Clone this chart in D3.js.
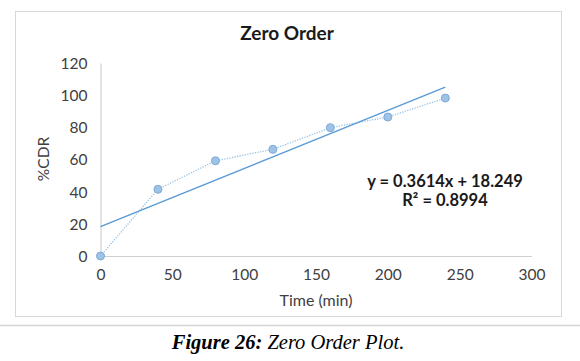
<!DOCTYPE html>
<html><head><meta charset="utf-8">
<script src="https://cdnjs.cloudflare.com/ajax/libs/d3/7.8.5/d3.min.js"></script>
<style>body{margin:0;background:#fff;} svg{display:block;}</style>
</head><body>
<svg id="c" width="580" height="361"></svg>
<script>
const timeMin = [0, 40, 80, 120, 160, 200, 240];
const cdr = [0, 41.5, 59.2, 66.3, 79.8, 86.4, 98.2];
const xTicks = [0, 50, 100, 150, 200, 250, 300];
const yTicks = [0, 20, 40, 60, 80, 100, 120];
const slope = 0.3614, intercept = 18.249, r2 = 0.8994;
const trendX = [0, 240];

const svg = d3.select("#c");
const x = d3.scaleLinear().domain([0, 300]).range([100.5, 531.5]);
const y = d3.scaleLinear().domain([0, 120]).range([256, 63]);
const font = "Lato, 'Open Sans', sans-serif";

// chart border
svg.append("rect").attr("x",15.5).attr("y",11.5).attr("width",546).attr("height",305)
  .attr("fill","#fff").attr("stroke","#d9d9d9").attr("stroke-width",1);
// separator
svg.append("line").attr("x1",0).attr("x2",580).attr("y1",325.5).attr("y2",325.5)
  .attr("stroke","#d4d4d4").attr("stroke-width",1.5);

// axes
const xa = svg.append("g").attr("transform",`translate(0,${y(0)})`)
  .call(d3.axisBottom(x).tickValues(xTicks).tickSize(0).tickPadding(13));
const ya = svg.append("g").attr("transform",`translate(${x(0)},0)`)
  .call(d3.axisLeft(y).tickValues(yTicks).tickSize(0).tickPadding(13));
[xa, ya].forEach(a => {
  a.select(".domain").attr("stroke","#d0d0d0").attr("stroke-width",1.2);
  a.selectAll("text").attr("font-family",font).attr("font-size",15.5).attr("fill","#404040");
});
ya.selectAll("text").attr("dy","0.35em");

// series dotted line
svg.append("path").datum(timeMin.map((t,i)=>[t,cdr[i]]))
  .attr("d", d3.line().x(d=>x(d[0])).y(d=>y(d[1])))
  .attr("fill","none").attr("stroke","#9dc3e6").attr("stroke-width",1.3)
  .attr("stroke-dasharray","1.3,1.3");
// trend line
svg.append("path").datum(trendX.map(t=>[t, slope*t+intercept]))
  .attr("d", d3.line().x(d=>x(d[0])).y(d=>y(d[1])))
  .attr("fill","none").attr("stroke","#5b9bd5").attr("stroke-width",1.5);
// markers
svg.selectAll("circle.m").data(timeMin.map((t,i)=>[t,cdr[i]])).enter().append("circle")
  .attr("cx",d=>x(d[0])).attr("cy",d=>y(d[1])).attr("r",4)
  .attr("fill","#9dc3e6").attr("stroke","#7fa9d8").attr("stroke-width",1);

// title
svg.append("text").attr("x",287).attr("y",40).attr("text-anchor","middle")
  .attr("font-family",font).attr("font-weight","bold").attr("font-size",19).attr("fill","#1a1a1a")
  .text("Zero Order");
// axis titles
svg.append("text").attr("x",316).attr("y",306).attr("text-anchor","middle")
  .attr("font-family",font).attr("font-size",16).attr("fill","#404040").text("Time (min)");
svg.append("text").attr("transform","translate(49,159) rotate(-90)").attr("text-anchor","middle")
  .attr("font-family",font).attr("font-size",15.5).attr("fill","#404040").text("%CDR");
// equation
svg.append("text").attr("x",445).attr("y",187).attr("text-anchor","middle")
  .attr("font-family",font).attr("font-weight","bold").attr("font-size",16.5).attr("fill","#1a1a1a")
  .text(`y = ${slope}x + ${intercept}`);
svg.append("text").attr("x",445).attr("y",206).attr("text-anchor","middle")
  .attr("font-family",font).attr("font-weight","bold").attr("font-size",16.5).attr("fill","#1a1a1a")
  .text(`R² = ${r2}`);
// caption
const cap = svg.append("text").attr("x",288).attr("y",349).attr("text-anchor","middle")
  .attr("font-family","'Liberation Serif', 'DejaVu Serif', serif").attr("font-size",20.5).attr("font-style","italic").attr("fill","#000");
cap.append("tspan").attr("font-weight","bold").text("Figure 26:");
cap.append("tspan").text(" Zero Order Plot.");
</script>
</body></html>
